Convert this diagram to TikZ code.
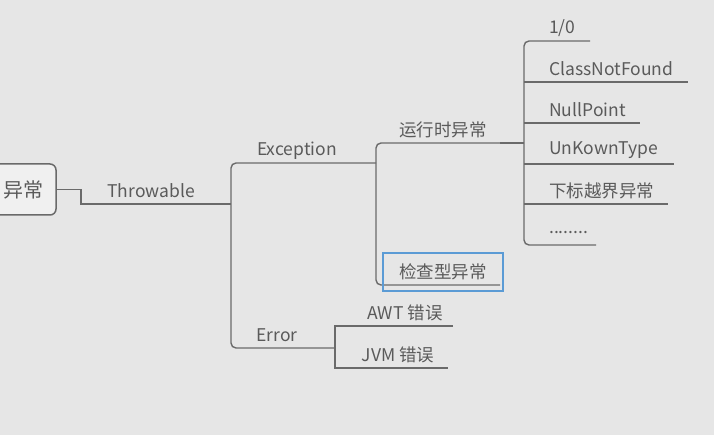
\documentclass[tikz,border=0pt]{standalone}
\usepackage{fontspec}
\setmainfont{Noto Sans CJK SC}
\usetikzlibrary{positioning,calc}
\definecolor{bgcol}{HTML}{E6E6E6}
\definecolor{linecol}{HTML}{6A6A6A}
\definecolor{txtcol}{HTML}{5A5A5A}
\definecolor{selcol}{HTML}{5B9BD5}
\begin{document}
\begin{tikzpicture}[x=1pt,y=-1pt,
    every node/.style={font=\fontsize{17.5}{20}\selectfont, text=txtcol, inner sep=0pt},
    branch/.style={draw=linecol, line width=1.4pt},
    rootbox/.style={draw=linecol, fill=white!40!bgcol, line width=1.5pt, rounded corners=6pt,
        minimum width=66pt, minimum height=51pt, font=\fontsize{20}{22}\selectfont},
    leaf/.style={anchor=west}]
                \useasboundingbox[fill=bgcol] (0,0) rectangle (714,435);
                % root
                \node[rootbox] (root) at (23,189.5) {异常};
                \coordinate (j1) at (81,204);
                \coordinate (thr) at (231,204);
                \node (throwable) at (151,191) {Throwable};
                \draw[branch] (root.east) -| (j1) -- (thr);
                % Exception / Error
                \coordinate (excR) at (376,163);
                \coordinate (errR) at (335,348);
                \node (exception) at (297,151) {Exception};
                \node (error) at (277,335) {Error};
                \draw[branch, rounded corners=5pt] (excR) -| (thr) |- (errR);
                % 运行时异常 / 检查型异常
                \coordinate (rtR) at (500,143);
                \coordinate (chkR) at (500,285);
                \node (runtime) at (443,130) {运行时异常};
                \node (checked) at (443,272) {检查型异常};
                \draw[branch, rounded corners=5pt] (rtR) -| (excR) |- (chkR);
                \draw[selcol, line width=1.6pt] (383,253) rectangle (503,291);
                % runtime leaves
                \coordinate (rtJ) at (524,143);
                \draw[linecol, line width=2.6pt] (rtR) -- (rtJ);
                \coordinate (l1) at (590,41);
                \coordinate (l2) at (688,82);
                \coordinate (l3) at (640,123);
                \coordinate (l4) at (674,164);
                \coordinate (l5) at (668,204);
                \coordinate (l6) at (596,245);
                \draw[branch, rounded corners=5pt] (l1) -| (rtJ) |- (l6);
                \foreach \l in {l2,l3,l4,l5}
                    \draw[branch] (rtJ |- \l) -- (\l);
                \node[leaf] (div) at (549,28) {1/0};
                \node[leaf] (cnf) at (549,69) {ClassNotFound};
                \node[leaf] (npe) at (549,110) {NullPoint};
                \node[leaf] (ukt) at (549,150) {UnKownType};
                \node[leaf] (idx) at (549,191) {下标越界异常};
                \node[leaf] (dots) at (549,233) {........};
                % Error leaves
                \coordinate (awtR) at (453,326);
                \coordinate (jvmR) at (448,368);
                \node (awt) at (405,313) {AWT 错误};
                \node (jvm) at (398,355) {JVM 错误};
                \draw[branch] (awtR) -| (errR) |- (jvmR);
            \end{tikzpicture}
\end{document}
